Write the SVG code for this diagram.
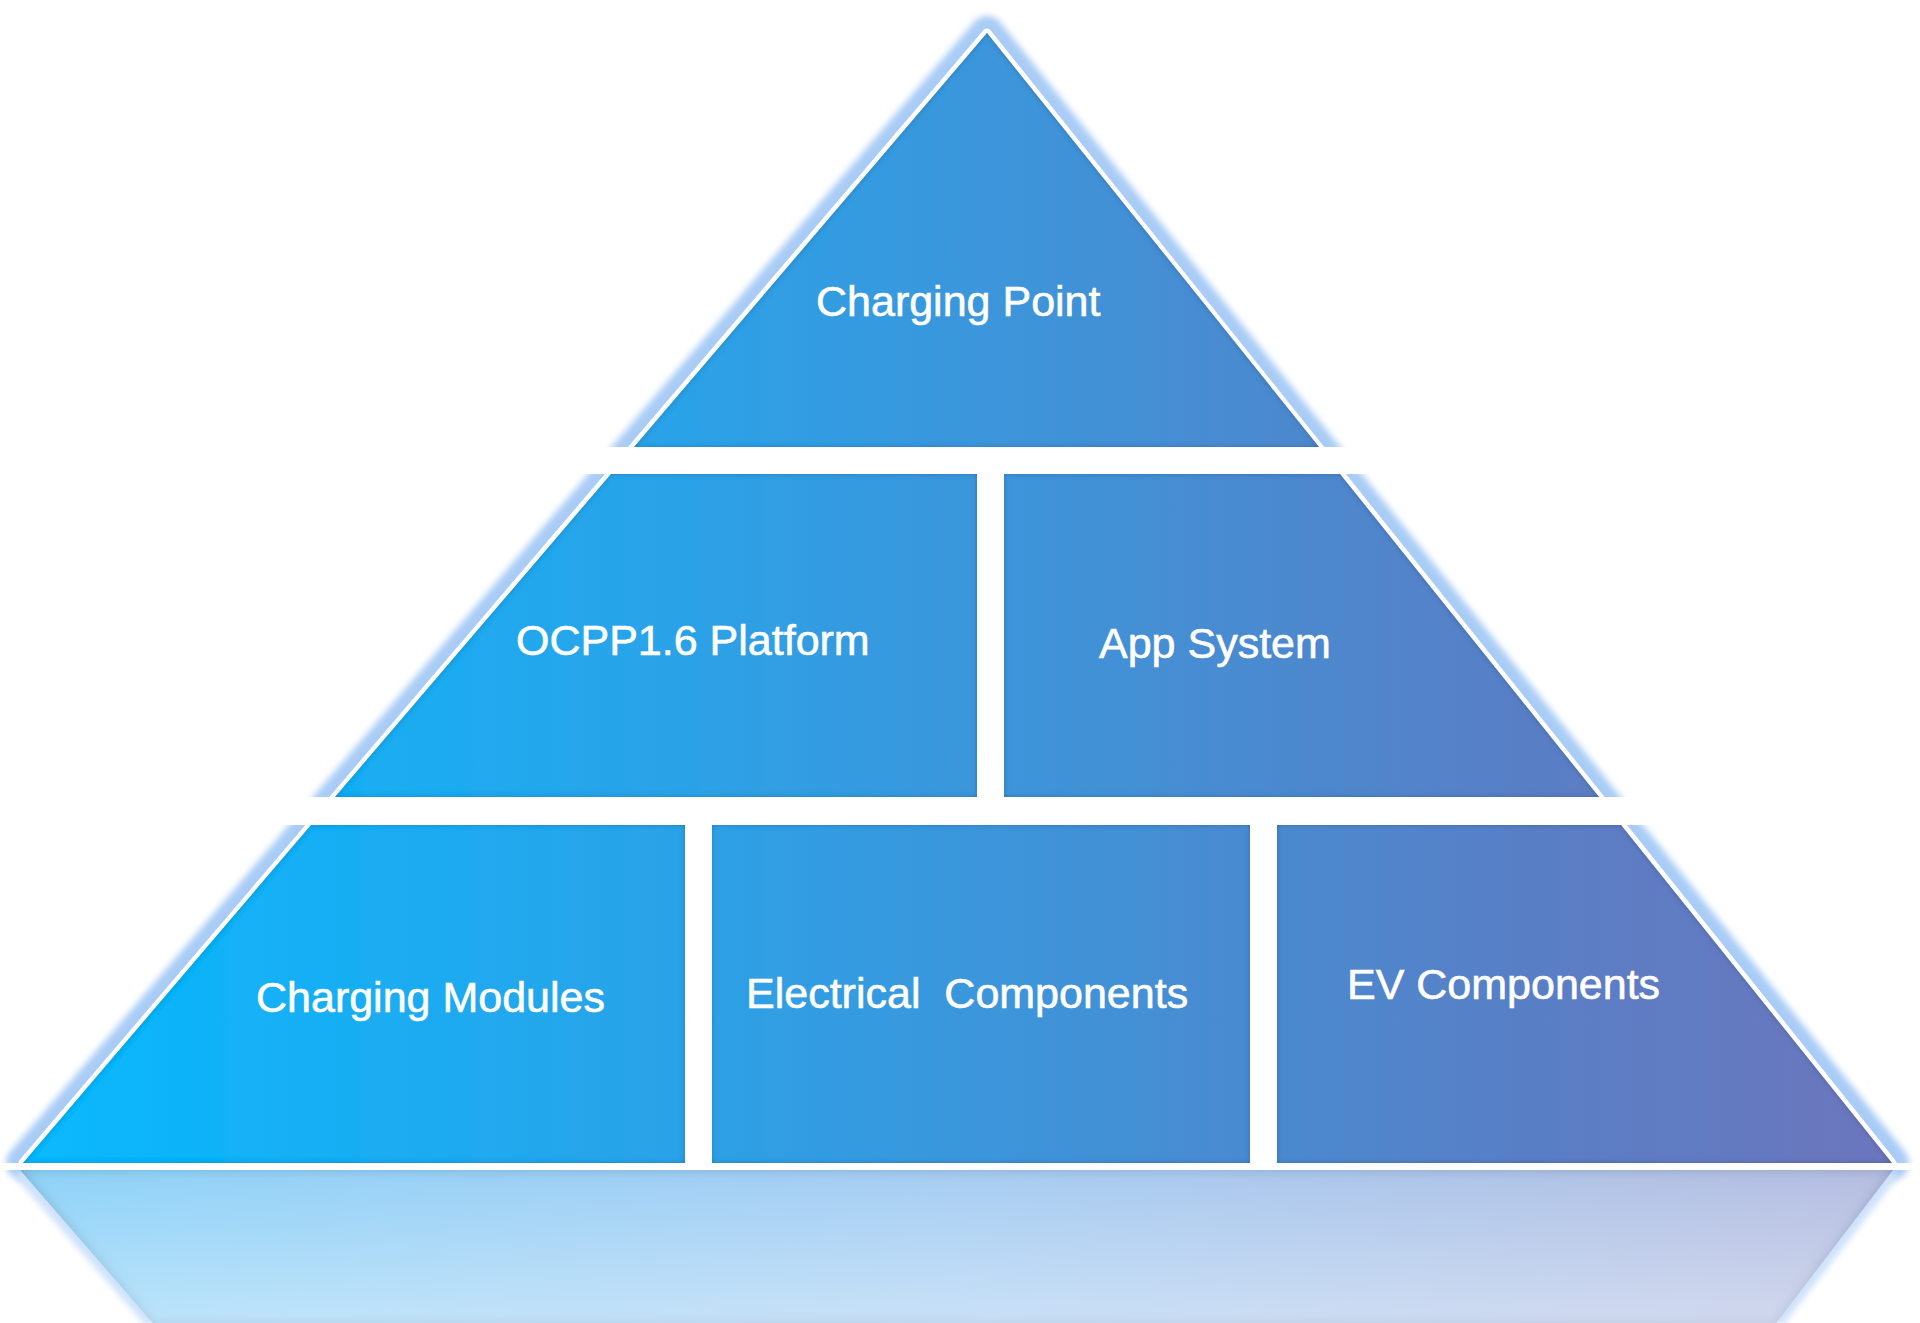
<svg xmlns="http://www.w3.org/2000/svg" width="1920" height="1323" viewBox="0 0 1920 1323">
<defs>
<linearGradient id="blue" gradientUnits="userSpaceOnUse" x1="20" y1="0" x2="1892" y2="0">
<stop offset="0" stop-color="#06b9fe"/>
<stop offset="0.35" stop-color="#2ba2e8"/>
<stop offset="0.55" stop-color="#3f93d8"/>
<stop offset="0.8" stop-color="#587fc6"/>
<stop offset="1" stop-color="#6c76bd"/>
</linearGradient>
<linearGradient id="refl" gradientUnits="userSpaceOnUse" x1="20" y1="0" x2="1892" y2="0">
<stop offset="0" stop-color="#8ed3f8"/>
<stop offset="0.5" stop-color="#a6cdf2"/>
<stop offset="1" stop-color="#b5bde0"/>
</linearGradient>
<linearGradient id="fade" gradientUnits="userSpaceOnUse" x1="0" y1="1170" x2="0" y2="1323">
<stop offset="0" stop-color="#ffffff" stop-opacity="0"/>
<stop offset="1" stop-color="#ffffff" stop-opacity="0.4"/>
</linearGradient>
<filter id="glow" x="-5%" y="-5%" width="110%" height="110%">
<feGaussianBlur stdDeviation="3"/>
</filter>
<filter id="inner" x="-5%" y="-5%" width="110%" height="110%">
<feFlood flood-color="#1c3a74" flood-opacity="0.55" result="c"/>
<feComposite in="c" in2="SourceAlpha" operator="out" result="inv"/>
<feGaussianBlur in="inv" stdDeviation="2.5" result="b"/>
<feComposite in="b" in2="SourceAlpha" operator="in" result="s"/>
<feMerge><feMergeNode in="SourceGraphic"/><feMergeNode in="s"/></feMerge>
</filter>
<filter id="inner2" x="-5%" y="-5%" width="110%" height="110%">
<feFlood flood-color="#4a6a9a" flood-opacity="0.5" result="c"/>
<feComposite in="c" in2="SourceAlpha" operator="out" result="inv"/>
<feGaussianBlur in="inv" stdDeviation="6" result="b"/>
<feComposite in="b" in2="SourceAlpha" operator="in" result="s"/>
<feMerge><feMergeNode in="SourceGraphic"/><feMergeNode in="s"/></feMerge>
</filter>
</defs>
<style>
.blk{fill:url(#blue);filter:url(#inner);}
.gap{fill:#ffffff;}
.lbl{font-family:"Liberation Sans",Arial,sans-serif;font-size:43px;fill:#ffffff;stroke:#ffffff;stroke-width:0.6px;white-space:pre;}
</style>
<rect width="1920" height="1323" fill="#ffffff"/>
<g id="frame">
<polygon points="987,33 23,1163 1892,1163" fill="none" stroke="#a9ccf6" stroke-width="34" stroke-linejoin="round" filter="url(#glow)"/>
<polygon points="987,33 23,1163 1892,1163" fill="none" stroke="#ffffff" stroke-width="9" stroke-linejoin="round"/>
<polyline points="20,1172 153,1323" fill="none" stroke="#cfe2fa" stroke-width="14" filter="url(#glow)"/>
<polyline points="1893,1172 1776,1323" fill="none" stroke="#cfe2fa" stroke-width="14" filter="url(#glow)"/>
<rect class="gap" x="0" y="447" width="1920" height="27"/>
<rect class="gap" x="0" y="797" width="1920" height="28"/>
<rect class="gap" x="0" y="1163" width="1920" height="7"/>
<rect class="gap" x="685" y="825" width="27" height="345"/>
<rect class="gap" x="1250" y="825" width="27" height="345"/>
<rect class="gap" x="977" y="474" width="27" height="323"/>
</g>
<g id="reflection">
<polygon points="20,1170 1893,1170 1776,1323 153,1323" fill="url(#refl)" filter="url(#inner2)"/>
<polygon points="20,1170 1893,1170 1776,1323 153,1323" fill="url(#fade)"/>
</g>
<g id="charging-point">
<polygon class="blk" points="987,33 634,447 1319,447"/>
<text class="lbl" x="816" y="316">Charging Point</text>
</g>
<g id="ocpp-platform">
<polygon class="blk" points="611,474 977,474 977,797 335,797"/>
<text class="lbl" x="516" y="655">OCPP1.6 Platform</text>
</g>
<g id="app-system">
<polygon class="blk" points="1004,474 1340,474 1599,797 1004,797"/>
<text class="lbl" x="1099" y="658">App System</text>
</g>
<g id="charging-modules">
<polygon class="blk" points="311,825 685,825 685,1163 23,1163"/>
<text class="lbl" x="256" y="1012">Charging Modules</text>
</g>
<g id="electrical-components">
<polygon class="blk" points="712,825 1250,825 1250,1163 712,1163"/>
<text class="lbl" x="746" y="1008" xml:space="preserve">Electrical  Components</text>
</g>
<g id="ev-components">
<polygon class="blk" points="1277,825 1621,825 1892,1163 1277,1163"/>
<text class="lbl" x="1347" y="999">EV Components</text>
</g>
<g id="connectors"></g>
</svg>
